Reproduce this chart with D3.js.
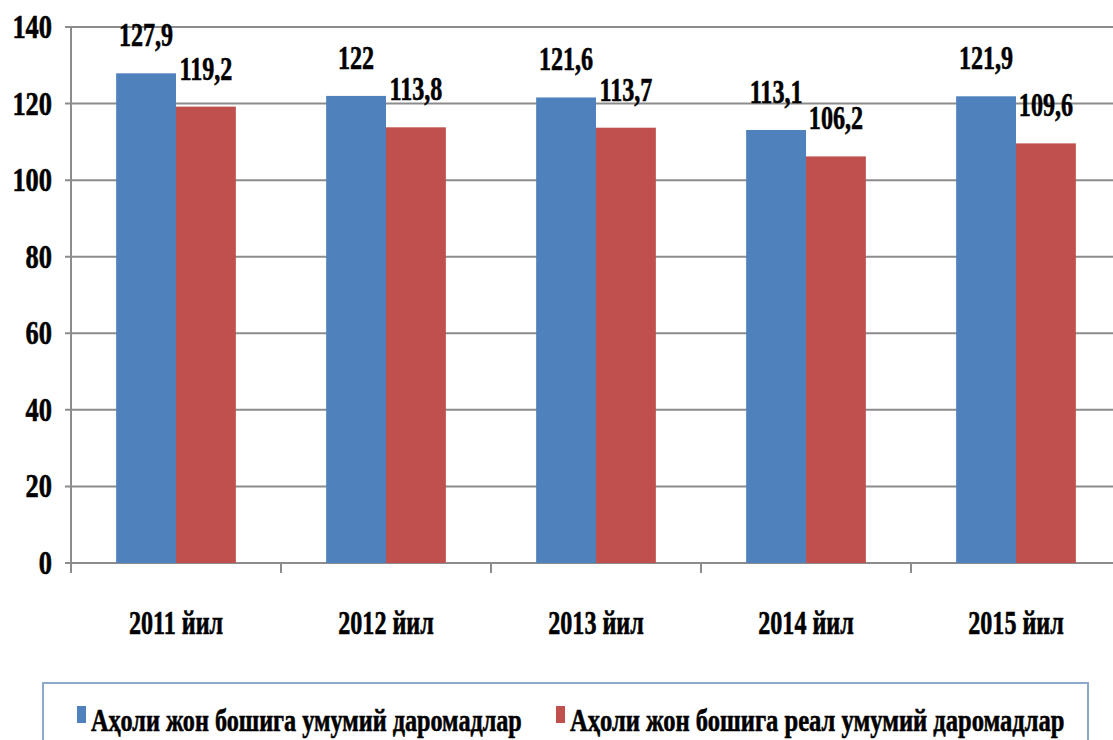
<!DOCTYPE html>
<html>
<head>
<meta charset="utf-8">
<script src="https://cdn.jsdelivr.net/npm/d3@7"></script>
<style>
  body { margin: 0; background: #fff; }
  text { stroke: #000; stroke-width: 0.6px; }
</style>
</head>
<body>
<svg id="chart" width="1113" height="740"></svg>
<script>
(function () {
  'use strict';

  const years = ["2011 йил", "2012 йил", "2013 йил", "2014 йил", "2015 йил"];
  const seriesNames = ["Аҳоли жон бошига умумий даромадлар", "Аҳоли жон бошига реал умумий даромадлар"];
  const nominal = [127.9, 122, 121.6, 113.1, 121.9];
  const real = [119.2, 113.8, 113.7, 106.2, 109.6];
  const yTicks = [0, 20, 40, 60, 80, 100, 120, 140];
  const colors = ["#4F81BD", "#C0504D"];

  const svg = d3.select("#chart")
    .attr("font-family", "'Liberation Serif', 'DejaVu Serif', serif")
    .attr("font-weight", "bold");
  const left = 71, right = 1121, top = 27, bottom = 563;
  const fs = "33px";
  const sx = 0.73; // glyphs in the picture are tall and narrow

  const y = d3.scaleLinear().domain([0, 140]).range([bottom, top]);
  const x0 = d3.scaleBand().domain(years).range([left, right])
    .paddingInner(0.43).paddingOuter(0.215);
  const x1 = d3.scaleBand().domain([0, 1]).range([0, x0.bandwidth()]);

  // gridlines
  svg.append("g").selectAll("line").data(yTicks).join("line")
    .attr("x1", left - 6).attr("x2", right)
    .attr("y1", d => y(d)).attr("y2", d => y(d))
    .attr("stroke", "#8c8c8c").attr("stroke-width", 2);

  // y axis line
  svg.append("line")
    .attr("x1", left).attr("x2", left).attr("y1", top).attr("y2", bottom + 10)
    .attr("stroke", "#8c8c8c").attr("stroke-width", 2);

  // category boundary ticks
  const step = x0.step();
  svg.append("g").selectAll("line").data(years).join("line")
    .attr("x1", d => x0(d) + x0.bandwidth() / 2 + step / 2)
    .attr("x2", d => x0(d) + x0.bandwidth() / 2 + step / 2)
    .attr("y1", bottom).attr("y2", bottom + 10)
    .attr("stroke", "#8c8c8c").attr("stroke-width", 2);

  // y tick labels
  svg.append("g").selectAll("text").data(yTicks).join("text")
    .attr("transform", d => `translate(52,${y(d) + 11}) scale(0.8,1)`)
    .attr("text-anchor", "end")
    .style("font-size", fs)
    .text(d => d);

  const rows = years.map((yr, i) => ({ yr, vals: [nominal[i], real[i]] }));

  const groups = svg.append("g").selectAll("g").data(rows).join("g")
    .attr("transform", d => `translate(${x0(d.yr)},0)`);

  groups.selectAll("rect").data(d => d.vals).join("rect")
    .attr("x", (d, i) => x1(i))
    .attr("y", d => y(d))
    .attr("width", x1.bandwidth())
    .attr("height", d => bottom - y(d))
    .attr("fill", (d, i) => colors[i]);

  groups.selectAll("text").data(d => d.vals).join("text")
    .attr("transform", (d, i) => `translate(${x1(i) + x1.bandwidth() / 2},${y(d) - 27}) scale(${sx},1)`)
    .attr("text-anchor", "middle")
    .style("font-size", fs)
    .text(d => String(d).replace(".", ","));

  // x labels
  svg.append("g").selectAll("text").data(years).join("text")
    .attr("transform", d => `translate(${x0(d) + x0.bandwidth() / 2},634) scale(${sx},1)`)
    .attr("text-anchor", "middle")
    .style("font-size", fs)
    .text(d => d);

  // legend
  svg.append("rect")
    .attr("x", 43).attr("y", 683).attr("width", 1045).attr("height", 80)
    .attr("fill", "#fff").attr("stroke", "#8eaacb").attr("stroke-width", 2);

  const legendX = [77, 556];
  const leg = svg.append("g").selectAll("g").data(seriesNames).join("g")
    .attr("transform", (d, i) => `translate(${legendX[i]},0)`);
  leg.append("rect")
    .attr("x", 0).attr("y", 706).attr("width", 9).attr("height", 17)
    .attr("fill", (d, i) => colors[i]);
  leg.append("text")
    .attr("transform", (d, i) => `translate(14,731) scale(${i ? 0.768 : 0.756},1)`)
    .style("font-size", "32px")
    .text(d => d);
})();
</script>
</body>
</html>
